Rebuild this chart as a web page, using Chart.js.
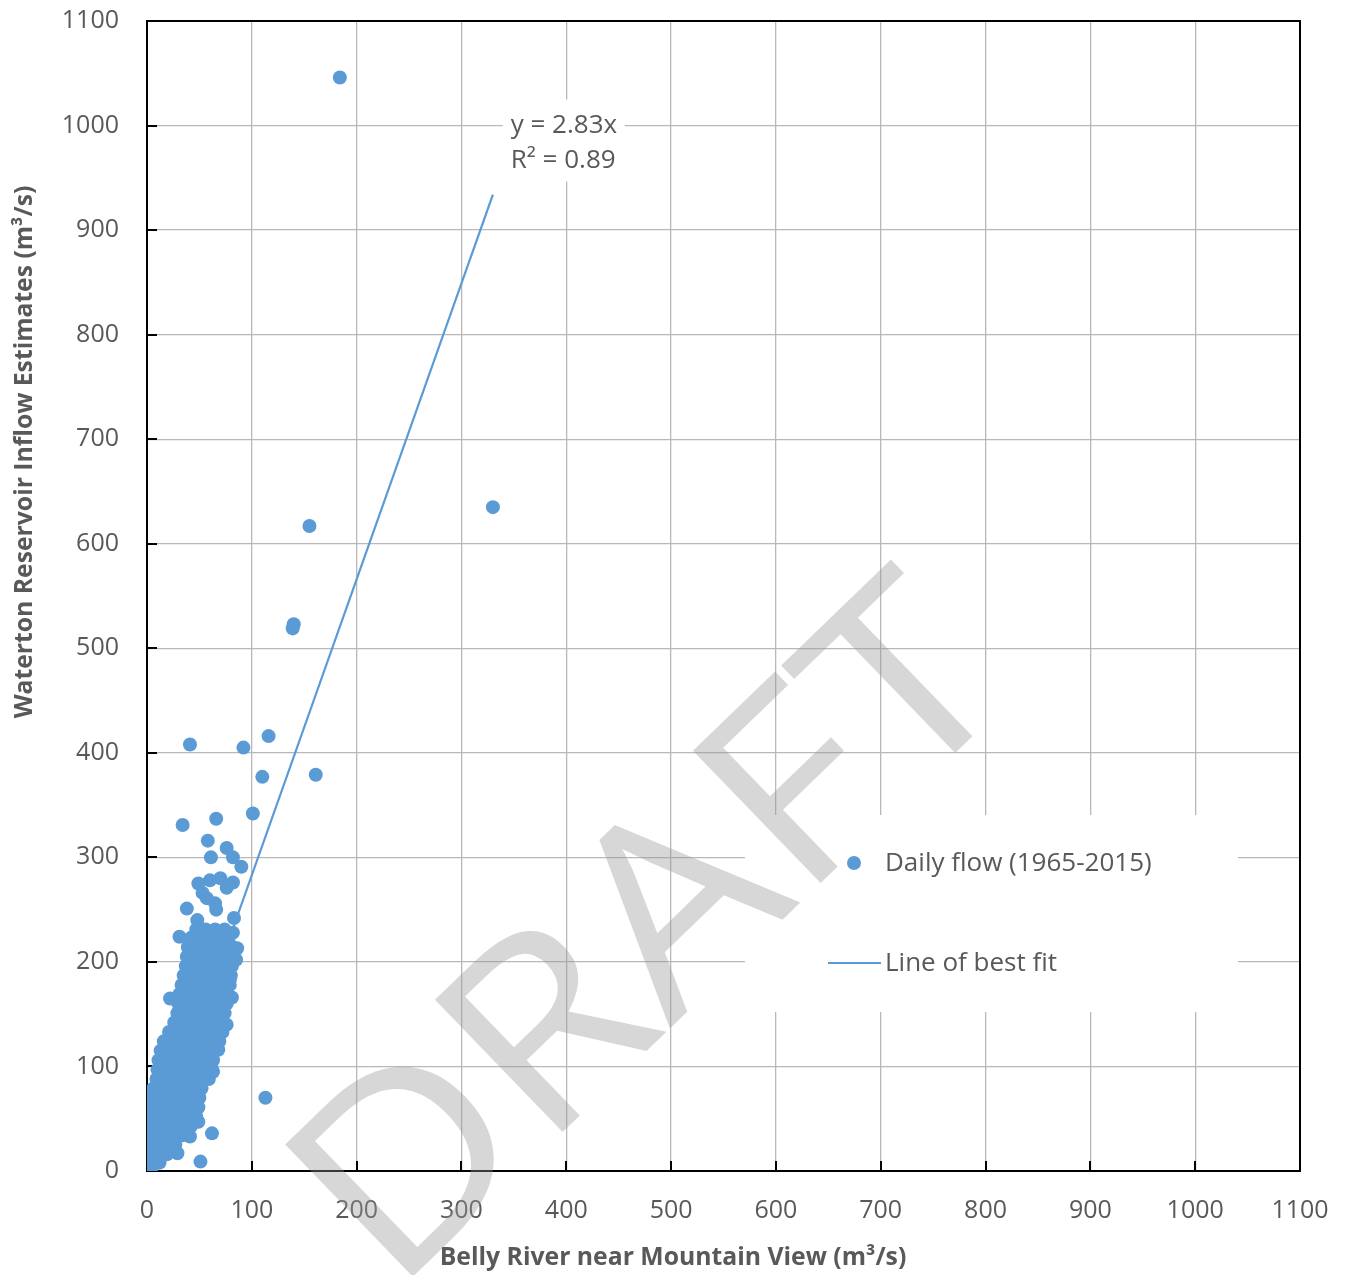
<!DOCTYPE html>
<html>
<head>
<meta charset="utf-8">
<script src="https://cdn.jsdelivr.net/npm/chart.js@4.4.1/dist/chart.umd.min.js"></script>
<style>
  html, body { margin: 0; padding: 0; background: #ffffff; }
  canvas { display: block; }
</style>
</head>
<body>
<canvas id="c" width="1347" height="1275"></canvas>
<script>
// ---------- data ----------
const xTicks = [0, 100, 200, 300, 400, 500, 600, 700, 800, 900, 1000, 1100];
const yTicks = [0, 100, 200, 300, 400, 500, 600, 700, 800, 900, 1000, 1100];

// isolated daily points (Belly River x, Waterton inflow y), m3/s
const outlierBelly    = [184, 330, 155, 140, 139, 116,  92,  41, 110, 161, 101,  34,  66,  58,  76,  61,  82,  90,  49,  60,  70,  82,  76,  57,  53,  65,  66,  38,  83,  48,  31,  82,  86,  85,  79,  81,  22,  76,  68,  63, 113, 49, 62, 41, 29, 51];
const outlierWaterton = [1046, 635, 617, 523, 519, 416, 405, 408, 377, 379, 342, 331, 337, 316, 309, 300, 300, 291, 275, 278, 280, 276, 271, 261, 266, 256, 250, 251, 242, 240, 224, 228, 213, 202, 183, 166, 165, 140, 116,  95,  70, 47, 36, 33, 17,  9];

// dense cloud of daily points near the origin
const clusterBelly = [
  0, 2, 4,
  0, 6, 12,
  0, 7, 14, 19,
  1, 8, 15, 22, 27,
  1, 9, 17, 25, 33,
  2, 10, 18, 26, 34, 42,
  2, 11, 20, 29, 38, 47,
  3, 12, 21, 30, 39, 49,
  4, 13, 22, 31, 40, 50,
  6, 15, 24, 33, 42, 52,
  9, 18, 27, 36, 45, 54, 59,
  10, 19, 28, 37, 46, 55, 62,
  11, 20, 29, 38, 47, 56, 63,
  13, 22, 31, 40, 49, 58, 65,
  16, 25, 34, 43, 52, 61, 69,
  21, 30, 39, 48, 57, 66, 72,
  26, 35, 44, 53, 62, 71,
  29, 38, 47, 56, 65, 74,
  30, 39, 48, 57, 66, 76,
  31, 40, 49, 58, 67, 77,
  33, 42, 51, 60, 69, 79,
  35, 44, 53, 62, 71, 80,
  37, 46, 55, 64, 73, 81,
  38, 47, 56, 65, 74, 83,
  39, 48, 57, 66, 75, 82,
  42, 51, 60, 69, 78,
  47, 56, 65, 74
];
const clusterWaterton = [
  1, 1, 2,
  8, 8, 8,
  16, 16, 16, 16,
  25, 25, 25, 25, 25,
  34, 34, 34, 34, 34,
  43, 43, 43, 43, 43, 43,
  52, 52, 52, 52, 52, 52,
  61, 61, 61, 61, 61, 61,
  70, 70, 70, 70, 70, 70,
  79, 79, 79, 79, 79, 79,
  88, 88, 88, 88, 88, 88, 88,
  97, 97, 97, 97, 97, 97, 97,
  106, 106, 106, 106, 106, 106, 106,
  115, 115, 115, 115, 115, 115, 115,
  124, 124, 124, 124, 124, 124, 124,
  133, 133, 133, 133, 133, 133, 133,
  142, 142, 142, 142, 142, 142,
  151, 151, 151, 151, 151, 151,
  160, 160, 160, 160, 160, 160,
  169, 169, 169, 169, 169, 169,
  178, 178, 178, 178, 178, 178,
  187, 187, 187, 187, 187, 187,
  196, 196, 196, 196, 196, 196,
  205, 205, 205, 205, 205, 205,
  214, 214, 214, 214, 214, 214,
  223, 223, 223, 223, 223,
  231, 231, 231, 231
];

// line of best fit endpoints (y = 2.83x over data range)
const fitX = [0, 330];
const fitY = [0, 934];

const seriesLabels = ['Daily flow (1965-2015)', 'Line of best fit'];
const fitLabel = ['y = 2.83x', 'R\u00B2 = 0.89'];
const xTitle = 'Belly River near Mountain View (m\u00B3/s)';
const yTitle = 'Waterton Reservoir Inflow Estimates (m\u00B3/s)';
const watermark = 'DRAFT';

// ---------- build ----------
const BLUE = '#5b9bd5';
const TXT = '#595959';
const FONT = "'Open Sans', 'Noto Sans', sans-serif";

const flowPoints = [];
clusterBelly.forEach((v, i) => flowPoints.push({x: v, y: clusterWaterton[i]}));
outlierBelly.forEach((v, i) => flowPoints.push({x: v, y: outlierWaterton[i]}));
const fitPoints = fitX.map((v, i) => ({x: v, y: fitY[i]}));

function fitFont(ctx, text, weight, targetW) {
  ctx.font = weight + ' 100px ' + FONT;
  const w = ctx.measureText(text).width;
  return 100 * targetW / w;
}

const decor = {
  id: 'decor',
  beforeDatasetsDraw(chart) {
    const {ctx, chartArea: a, scales} = chart;
    ctx.save();
    ctx.strokeStyle = '#000';
    ctx.lineWidth = 2;
    ctx.beginPath();
    xTicks.forEach(v => {
      const px = Math.round(scales.x.getPixelForValue(v));
      ctx.moveTo(px, a.bottom); ctx.lineTo(px, a.bottom - 10);
    });
    yTicks.forEach(v => {
      const py = Math.round(scales.y.getPixelForValue(v));
      ctx.moveTo(a.left, py); ctx.lineTo(a.left + 10, py);
    });
    ctx.stroke();
    ctx.strokeRect(a.left, a.top, a.right - a.left, a.bottom - a.top);
    ctx.restore();
  },
  afterDraw(chart) {
    const {ctx, scales} = chart;
    ctx.save();
    // equation label
    const ex = scales.x.getPixelForValue(347);
    const ey = scales.y.getPixelForValue(1000);
    ctx.fillStyle = '#fff';
    ctx.fillRect(ex - 8, ey - 26, 122, 82);
    ctx.fillStyle = TXT;
    ctx.font = '26px ' + FONT;
    ctx.textAlign = 'left';
    ctx.textBaseline = 'middle';
    ctx.fillText(fitLabel[0], ex, ey);
    ctx.fillText(fitLabel[1], ex, ey + 35);

    // legend
    ctx.fillStyle = '#fff';
    ctx.fillRect(745, 815, 493, 197);
    ctx.fillStyle = BLUE;
    ctx.beginPath();
    ctx.arc(854, 863, 7, 0, Math.PI * 2);
    ctx.fill();
    ctx.strokeStyle = BLUE;
    ctx.lineWidth = 2.2;
    ctx.beginPath();
    ctx.moveTo(828, 963); ctx.lineTo(881, 963);
    ctx.stroke();
    ctx.fillStyle = TXT;
    ctx.font = '26px ' + FONT;
    ctx.fillText(seriesLabels[0], 885, 864);
    ctx.fillText(seriesLabels[1], 885, 964);

    // axis titles
    ctx.fillStyle = TXT;
    ctx.textAlign = 'center';
    ctx.textBaseline = 'middle';
    let fs = fitFont(ctx, xTitle, 'bold', 467);
    ctx.font = 'bold ' + fs + 'px ' + FONT;
    ctx.fillText(xTitle, 673, 1258);
    fs = fitFont(ctx, yTitle, 'bold', 533);
    ctx.font = 'bold ' + fs + 'px ' + FONT;
    ctx.save();
    ctx.translate(25, 452);
    ctx.rotate(-Math.PI / 2);
    ctx.fillText(yTitle, 0, 0);
    ctx.restore();

    // watermark
    ctx.textAlign = 'left';
    ctx.textBaseline = 'alphabetic';
    ctx.font = '100px ' + FONT;
    let m = ctx.measureText(watermark);
    const size = 100 * 188 / m.actualBoundingBoxAscent;
    ctx.font = size + 'px ' + FONT;
    m = ctx.measureText(watermark);
    const inkL = -m.actualBoundingBoxLeft, inkR = m.actualBoundingBoxRight;
    const sx = 845 / (inkR - inkL);
    ctx.translate(716, 984);
    ctx.rotate(-44 * Math.PI / 180);
    ctx.scale(sx, 1);
    ctx.fillStyle = 'rgba(150,150,150,0.38)';
    ctx.fillText(watermark, -(inkL + inkR) / 2, 0);
    ctx.restore();
  }
};

const tickFont = {family: FONT, size: 25};
const plainLabel = v => String(v);

new Chart(document.getElementById('c'), {
  type: 'scatter',
  data: {
    datasets: [
      {
        label: seriesLabels[0],
        data: flowPoints,
        backgroundColor: BLUE,
        borderColor: BLUE,
        borderWidth: 0,
        pointRadius: 7,
        pointHoverRadius: 7
      },
      {
        label: seriesLabels[1],
        data: fitPoints,
        showLine: true,
        borderColor: BLUE,
        backgroundColor: BLUE,
        borderWidth: 2.2,
        pointRadius: 0,
        fill: false
      }
    ]
  },
  options: {
    responsive: false,
    animation: false,
    events: [],
    layout: {padding: {top: 21, right: 47, left: 0, bottom: 0}},
    plugins: {legend: {display: false}, tooltip: {enabled: false}},
    scales: {
      x: {
        type: 'linear', min: 0, max: 1100,
        afterBuildTicks: s => { s.ticks = xTicks.map(v => ({value: v})); },
        ticks: {color: TXT, font: tickFont, padding: 25, maxRotation: 0, autoSkip: false, callback: plainLabel},
        grid: {color: '#b8b8b8', lineWidth: 1.3, drawTicks: false},
        border: {display: true, color: '#000', width: 2},
        afterFit: s => { s.height = 104; s.paddingLeft = 0; s.paddingRight = 0; }
      },
      y: {
        type: 'linear', min: 0, max: 1100,
        afterBuildTicks: s => { s.ticks = yTicks.map(v => ({value: v})); },
        ticks: {color: TXT, font: tickFont, padding: 28, autoSkip: false, callback: plainLabel},
        grid: {color: '#b8b8b8', lineWidth: 1.3, drawTicks: false},
        border: {display: true, color: '#000', width: 2},
        afterFit: s => { s.width = 147; s.paddingTop = 0; s.paddingBottom = 0; }
      }
    }
  },
  plugins: [decor]
});
</script>
</body>
</html>
